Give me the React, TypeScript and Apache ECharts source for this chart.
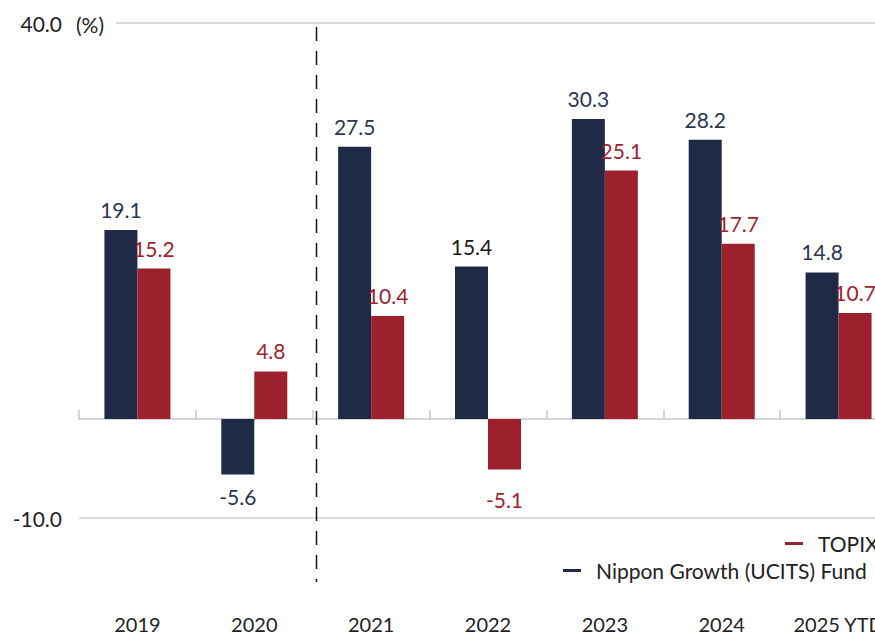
import React, { useEffect, useRef } from "react";
import * as echarts from "echarts";

const categories = ["2019", "2020", "2021", "2022", "2023", "2024", "2025 YTD"];
const fundName = "Nippon Growth (UCITS) Fund";
const topixName = "TOPIX";
const fundValues = [19.1, -5.6, 27.5, 15.4, 30.3, 28.2, 14.8];
const topixValues = [15.2, 4.8, 10.4, -5.1, 25.1, 17.7, 10.7];
const yTickLabels = [-10, 40];

const NAVY = "#1f2b46";
const RED = "#9d212d";
const FONT = "Lato, 'Noto Sans', sans-serif";
const FS = 21;
const CH = 634;

export default function App() {
  const ref = useRef<HTMLDivElement>(null);
  useEffect(() => {
    if (!ref.current) return;
    const chart = echarts.init(ref.current, null, { renderer: "svg" });
    const mkData = (vals: number[], negDistance: number, special?: (v: number, i: number) => any) =>
      vals.map((v, i) => {
        const item: any = { value: v };
        if (v < 0) item.label = { distance: negDistance };
        if (special) item.label = Object.assign(item.label || {}, special(v, i));
        return item;
      });
    chart.setOption({
      animation: false,
      textStyle: { fontFamily: FONT },
      grid: { left: 79, right: 63, top: 23, bottom: CH - 518, containLabel: false, outerBoundsMode: "none" },
      legend: [
        {
          data: [topixName],
          left: 780,
          top: 528,
          icon: "rect",
          itemWidth: 18,
          itemHeight: 3,
          textStyle: { fontSize: FS, color: "#222", fontFamily: FONT, padding: [0, 0, 0, 10] },
        },
        {
          data: [fundName],
          left: 558,
          top: 555,
          icon: "rect",
          itemWidth: 18,
          itemHeight: 3,
          textStyle: { fontSize: FS, color: "#222", fontFamily: FONT, padding: [0, 0, 0, 10] },
        },
      ],
      xAxis: [
        {
          type: "category",
          data: categories,
          axisLine: { onZero: true, lineStyle: { color: "#c8c8c8", width: 1.5 } },
          axisTick: { show: true, inside: true, length: 9, lineStyle: { color: "#c8c8c8", width: 1.5 } },
          axisLabel: { show: false },
        },
        {
          type: "category",
          data: categories,
          position: "bottom",
          axisLine: { show: false, onZero: false },
          axisTick: { show: false },
          axisLabel: { interval: 0, margin: 97, fontSize: FS - 1, lineHeight: 17, color: "#222", fontFamily: FONT },
        },
      ],
      yAxis: {
        type: "value",
        min: -10,
        max: 40,
        interval: 10,
        axisLine: { show: false },
        axisTick: { show: false },
        axisLabel: {
          fontSize: FS,
          color: "#222",
          margin: 17,
          fontFamily: FONT,
          formatter: (v: number) => (yTickLabels.includes(v) ? v.toFixed(1) : ""),
        },
        splitLine: {
          show: true,
          lineStyle: {
            color: ["#cfcfcf", "rgba(0,0,0,0)", "rgba(0,0,0,0)", "rgba(0,0,0,0)", "rgba(0,0,0,0)", "#cfcfcf"],
            width: 1.5,
          },
        },
      },
      series: [
        {
          name: fundName,
          type: "bar",
          barWidth: 33,
          barGap: "0%",
          itemStyle: { color: NAVY },
          label: {
            show: true,
            position: "outside",
            distance: 10,
            fontSize: FS,
            color: "#2a3652",
            fontFamily: FONT,
            formatter: (p: any) => Number(p.value).toFixed(1),
          },
          data: mkData(fundValues, 12, (v, i) => (i === 3 ? { color: "#1a1a1a" } : {})),
        },
        {
          name: topixName,
          type: "bar",
          barWidth: 33,
          barGap: "0%",
          itemStyle: { color: RED },
          label: {
            show: true,
            position: "outside",
            distance: 10,
            fontSize: FS,
            color: "#a2232f",
            fontFamily: FONT,
            formatter: (p: any) => Number(p.value).toFixed(1),
          },
          data: mkData(topixValues, 20),
        },
      ],
      graphic: [
        {
          type: "rect",
          shape: { x: 70, y: 11, width: 46, height: 24 },
          style: { fill: "#fff" },
          z: 100,
        },
        {
          type: "text",
          x: 76,
          y: 24,
          style: { text: "(%)", fontSize: FS, fontFamily: FONT, fill: "#222", verticalAlign: "middle" },
          z: 101,
        },
        {
          type: "line",
          shape: { x1: 316.5, y1: 27, x2: 316.5, y2: 582 },
          style: { stroke: "#111", lineWidth: 1.5, lineDash: [14, 10] },
          z: 101,
        },
      ],
    });
    return () => chart.dispose();
  }, []);
  return (
    <div style={{ position: "fixed", left: 0, top: 0, width: 875, height: 634, overflow: "hidden", background: "#fff" }}>
      <div ref={ref} style={{ width: 960, height: CH }} />
    </div>
  );
}
